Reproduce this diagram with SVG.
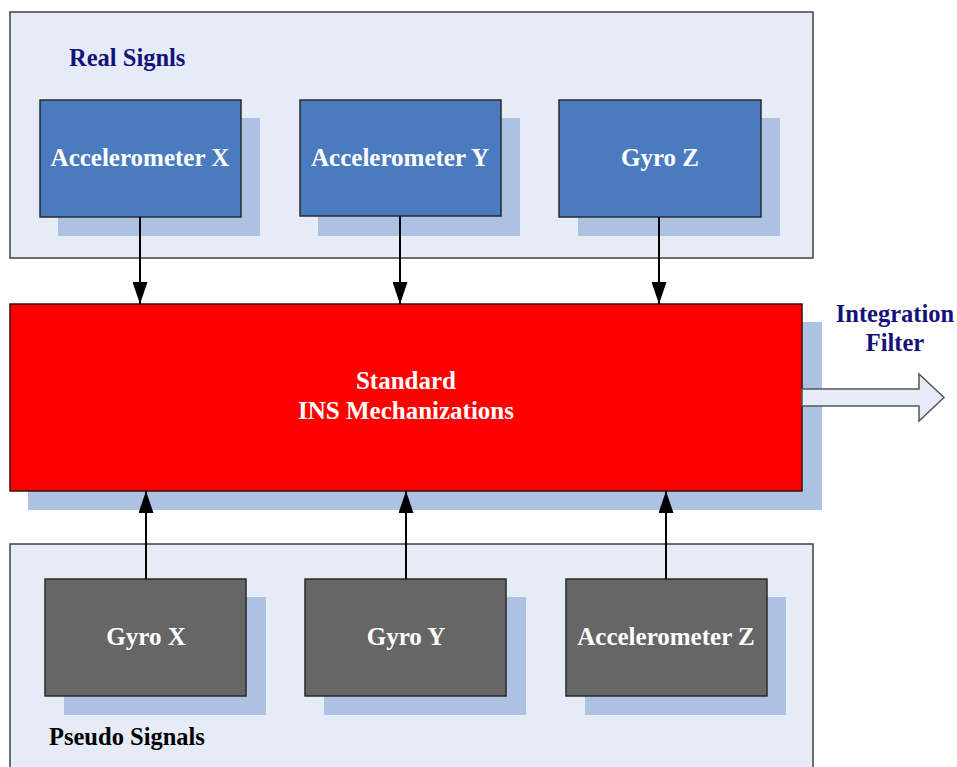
<svg xmlns="http://www.w3.org/2000/svg" width="957" height="767" viewBox="0 0 957 767">
<defs>
<style>
.panel{fill:#e6ecf7;stroke:#404040;stroke-width:1.5}
.shadow{fill:#adc2e2}
.blue{fill:#4a7bc0;stroke:#2a2a2a;stroke-width:1.5}
.gray{fill:#666666;stroke:#2a2a2a;stroke-width:1.5}
.red{fill:#ff0000;stroke:#3a1010;stroke-width:1.5}
.t{font-family:"Liberation Serif","Times New Roman",serif;font-weight:bold;font-size:24.5px}
.n{font-size:25px}
.w{fill:#ffffff;text-anchor:middle}
.navy{fill:#12127a}
.conn{stroke:#000;stroke-width:2;fill:none}
</style>
<marker id="ah" markerWidth="22" markerHeight="15" refX="22" refY="7.5" orient="auto" markerUnits="userSpaceOnUse" viewBox="0 0 22 15">
<path d="M0,0 L22,7.5 L0,15 Z" fill="#000"/>
</marker>
</defs>
<rect width="957" height="767" fill="#ffffff"/>
<g id="real-panel">
<rect class="panel" x="10" y="12" width="803" height="246"/>
<text class="t navy" x="69" y="66">Real Signls</text>
</g>
<g id="pseudo-panel">
<rect class="panel" x="10" y="544" width="803" height="240"/>
<text class="t" x="49" y="745" fill="#000">Pseudo Signals</text>
</g>
<g id="accel-x">
<rect class="shadow" x="58" y="118" width="202" height="118"/>
<rect class="blue" x="40" y="100" width="201" height="117"/>
<text class="t n w" x="140" y="166">Accelerometer X</text>
</g>
<g id="accel-y">
<rect class="shadow" x="318" y="118" width="202" height="118"/>
<rect class="blue" x="300" y="100" width="201" height="116"/>
<text class="t n w" x="400" y="166">Accelerometer Y</text>
</g>
<g id="gyro-z">
<rect class="shadow" x="578" y="118" width="202" height="118"/>
<rect class="blue" x="559" y="100" width="202" height="117"/>
<text class="t n w" x="660" y="166">Gyro Z</text>
</g>
<g id="ins">
<rect class="shadow" x="28" y="322" width="794" height="188"/>
<rect class="red" x="10" y="304" width="792" height="187"/>
<text class="t n w" x="406" y="389">Standard</text>
<text class="t n w" x="406" y="419">INS Mechanizations</text>
</g>
<g id="gyro-x">
<rect class="shadow" x="64" y="597" width="202" height="118"/>
<rect class="gray" x="45" y="579" width="201" height="117"/>
<text class="t n w" x="146" y="645">Gyro X</text>
</g>
<g id="gyro-y">
<rect class="shadow" x="324" y="597" width="202" height="118"/>
<rect class="gray" x="305" y="579" width="201" height="117"/>
<text class="t n w" x="406" y="645">Gyro Y</text>
</g>
<g id="accel-z">
<rect class="shadow" x="585" y="597" width="201" height="118"/>
<rect class="gray" x="566" y="579" width="201" height="117"/>
<text class="t n w" x="666" y="645">Accelerometer Z</text>
</g>
<g id="output">
<text class="t navy" x="895" y="322" text-anchor="middle">Integration</text>
<text class="t navy" x="895" y="351" text-anchor="middle">Filter</text>
</g>
<g id="connectors">
<line class="conn" x1="140" y1="217" x2="140" y2="304" marker-end="url(#ah)"/>
<line class="conn" x1="400" y1="216" x2="400" y2="304" marker-end="url(#ah)"/>
<line class="conn" x1="659" y1="217" x2="659" y2="304" marker-end="url(#ah)"/>
<line class="conn" x1="146" y1="579" x2="146" y2="491" marker-end="url(#ah)"/>
<line class="conn" x1="406" y1="579" x2="406" y2="491" marker-end="url(#ah)"/>
<line class="conn" x1="666" y1="579" x2="666" y2="491" marker-end="url(#ah)"/>
<path d="M802,389 L919,389 L919,374 L944,397.5 L919,421 L919,406 L802,406 Z" fill="#e6ecf7" stroke="#555555" stroke-width="1.5"/>
</g>
</svg>
